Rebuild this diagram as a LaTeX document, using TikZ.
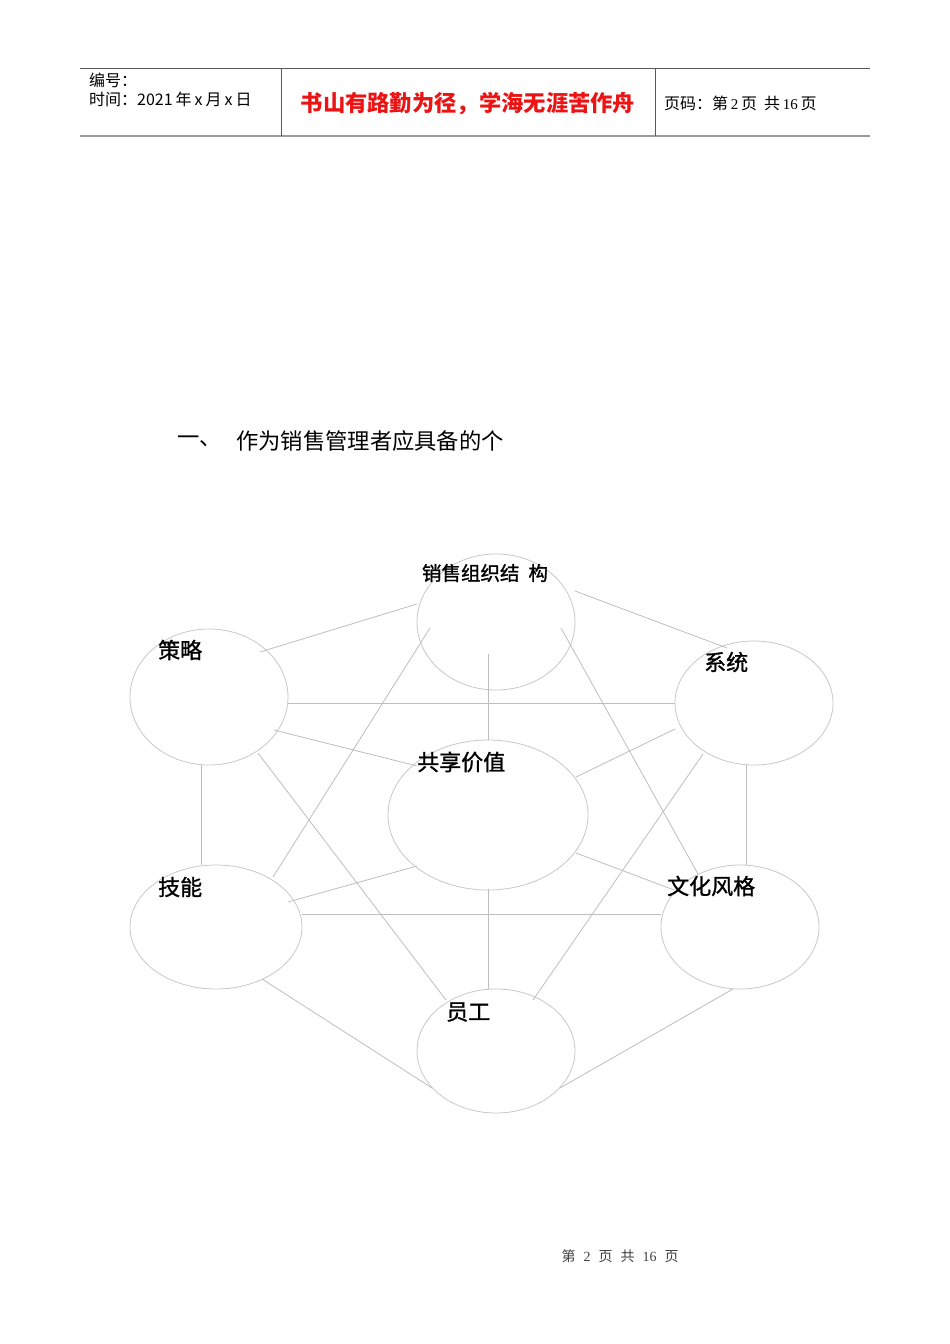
\documentclass[tikz,border=0pt]{standalone}
\usepackage{fontspec}
\setmainfont{Liberation Serif}
\newfontfamily\cjk{Noto Sans CJK SC}
\newfontfamily\cjkfb{Noto Sans CJK SC}[FakeBold=1.2]
\usetikzlibrary{shapes.geometric,calc}
\definecolor{lnc}{RGB}{190,190,190}
\definecolor{elc}{RGB}{200,200,200}
\definecolor{hdc}{RGB}{90,90,90}
\definecolor{redt}{RGB}{235,20,20}
\tikzset{
  ell/.style={draw=elc, line width=0.8pt, ellipse, inner sep=0pt},
  con/.style={draw=lnc, line width=0.8pt},
  lab/.style={font=\cjkfb\fontsize{22}{24}\selectfont, inner sep=0pt, anchor=west},
  ttl/.style={font=\cjk\fontsize{22.3}{24}\selectfont, inner sep=0pt, anchor=west},
  hdr/.style={font=\cjk\fontsize{16}{18}\selectfont, inner sep=0pt, anchor=west}
}
\begin{document}
\begin{tikzpicture}[x=1pt,y=-1pt]
\useasboundingbox (0,0) rectangle (950,1344);
\fill[white] (0,0) rectangle (950,1344);
% header
\coordinate (h1) at (80,68);
\coordinate (h2) at (870,68);
\coordinate (h3) at (80,136);
\coordinate (h4) at (870,136);
\coordinate (v1a) at (281,68);
\coordinate (v1b) at (281,136);
\coordinate (v2a) at (655,68);
\coordinate (v2b) at (655,136);
\draw[hdc, line width=0.9pt] (h1) -- (h2);
\draw[gray!80, line width=2pt] (h3) -- (h4);
\draw[hdc, line width=0.9pt] (v1a) -- (v1b);
\draw[hdc, line width=0.9pt] (v2a) -- (v2b);
\node[hdr] (bh) at (89,80) {编号：};
\node[hdr] (sj) at (89,99) {时间：2021\hspace{3pt}年\hspace{3pt}x\hspace{3pt}月\hspace{3pt}x\hspace{3pt}日};
\node[font=\cjk\bfseries\fontsize{22.3}{24}\selectfont, text=redt, inner sep=0pt] (motto) at (468,104) {书山有路勤为径，学海无涯苦作舟};
\node[hdr] (ym) at (664,103) {页码：第\,{\rmfamily\fontsize{15}{16}\selectfont 2}\,页\ \ 共\,{\rmfamily\fontsize{15}{16}\selectfont 16}\,页};
% title
\node[ttl] (t1) at (177,441) {一、};
\node[ttl] (t2) at (236,441) {作为销售管理者应具备的个};
% ellipses
\node[ell, minimum width=158pt, minimum height=136pt] (T) at (496,622) {};
\node[ell, minimum width=158pt, minimum height=136pt] (S) at (209,697) {};
\node[ell, minimum width=158pt, minimum height=124pt] (Y) at (754,703) {};
\node[ell, minimum width=200pt, minimum height=150pt] (C) at (488,815) {};
\node[ell, minimum width=172pt, minimum height=124pt] (K) at (216,927) {};
\node[ell, minimum width=158pt, minimum height=124pt] (W) at (740,927) {};
\node[ell, minimum width=158pt, minimum height=124pt] (E) at (496,1051) {};
% connectors
\draw[con] ($(S)+(51,-45)$) -- ($(T)+(-79,-18)$);
\draw[con] ($(T)+(79,-31)$) -- ($(Y)+(-27,-55)$);
\draw[con] ($(S)+(79,6)$) -- ($(Y)+(-79,0)$);
\draw[con] ($(T)+(-8,32)$) -- ($(C)+(0,-75)$);
\draw[con] ($(T)+(-66,6)$) -- ($(K)+(57,-50)$);
\draw[con] ($(T)+(65,6)$) -- ($(W)+(-42,-53)$);
\draw[con] ($(S)+(65,33)$) -- ($(C)+(-71,-49)$);
\draw[con] ($(C)+(88,-38)$) -- ($(Y)+(-79,26)$);
\draw[con] ($(S)+(-8,68)$) -- ($(K)+(-15,-62)$);
\draw[con] ($(Y)+(-8,62)$) -- ($(W)+(6,-62)$);
\draw[con] ($(S)+(49,56)$) -- ($(E)+(-50,-51)$);
\draw[con] ($(Y)+(-51,51)$) -- ($(E)+(37,-51)$);
\draw[con] ($(K)+(72,-25)$) -- ($(C)+(-71,51)$);
\draw[con] ($(C)+(88,38)$) -- ($(W)+(-66,-37)$);
\draw[con] ($(K)+(86,-13)$) -- ($(W)+(-79,-13)$);
\draw[con] ($(C)+(0,74)$) -- ($(E)+(-8,-62)$);
\draw[con] ($(K)+(46,52)$) -- ($(E)+(-64,37)$);
\draw[con] ($(W)+(-7,62)$) -- ($(E)+(64,37)$);
% labels
\node[font=\cjkfb\fontsize{19.5}{21}\selectfont, inner sep=0pt] (lT) at (485,573) {销售组织结\hspace{9pt}构};
\node[lab] (lS) at (158,650) {策略};
\node[lab] (lY) at (704,662) {系统};
\node[lab] (lC) at (417,762) {共享价值};
\node[lab] (lK) at (158,887) {技能};
\node[lab] (lW) at (667,886) {文化风格};
\node[lab] (lE) at (446,1012) {员工};
% footer
\node[font=\cjk\fontsize{14}{15}\selectfont, text=black!75, inner sep=0pt] (ft) at (620,1256) {第\hspace{8pt}{\rmfamily 2}\hspace{8pt}页\hspace{8pt}共\hspace{8pt}{\rmfamily 16}\hspace{8pt}页};
\end{tikzpicture}
\end{document}
